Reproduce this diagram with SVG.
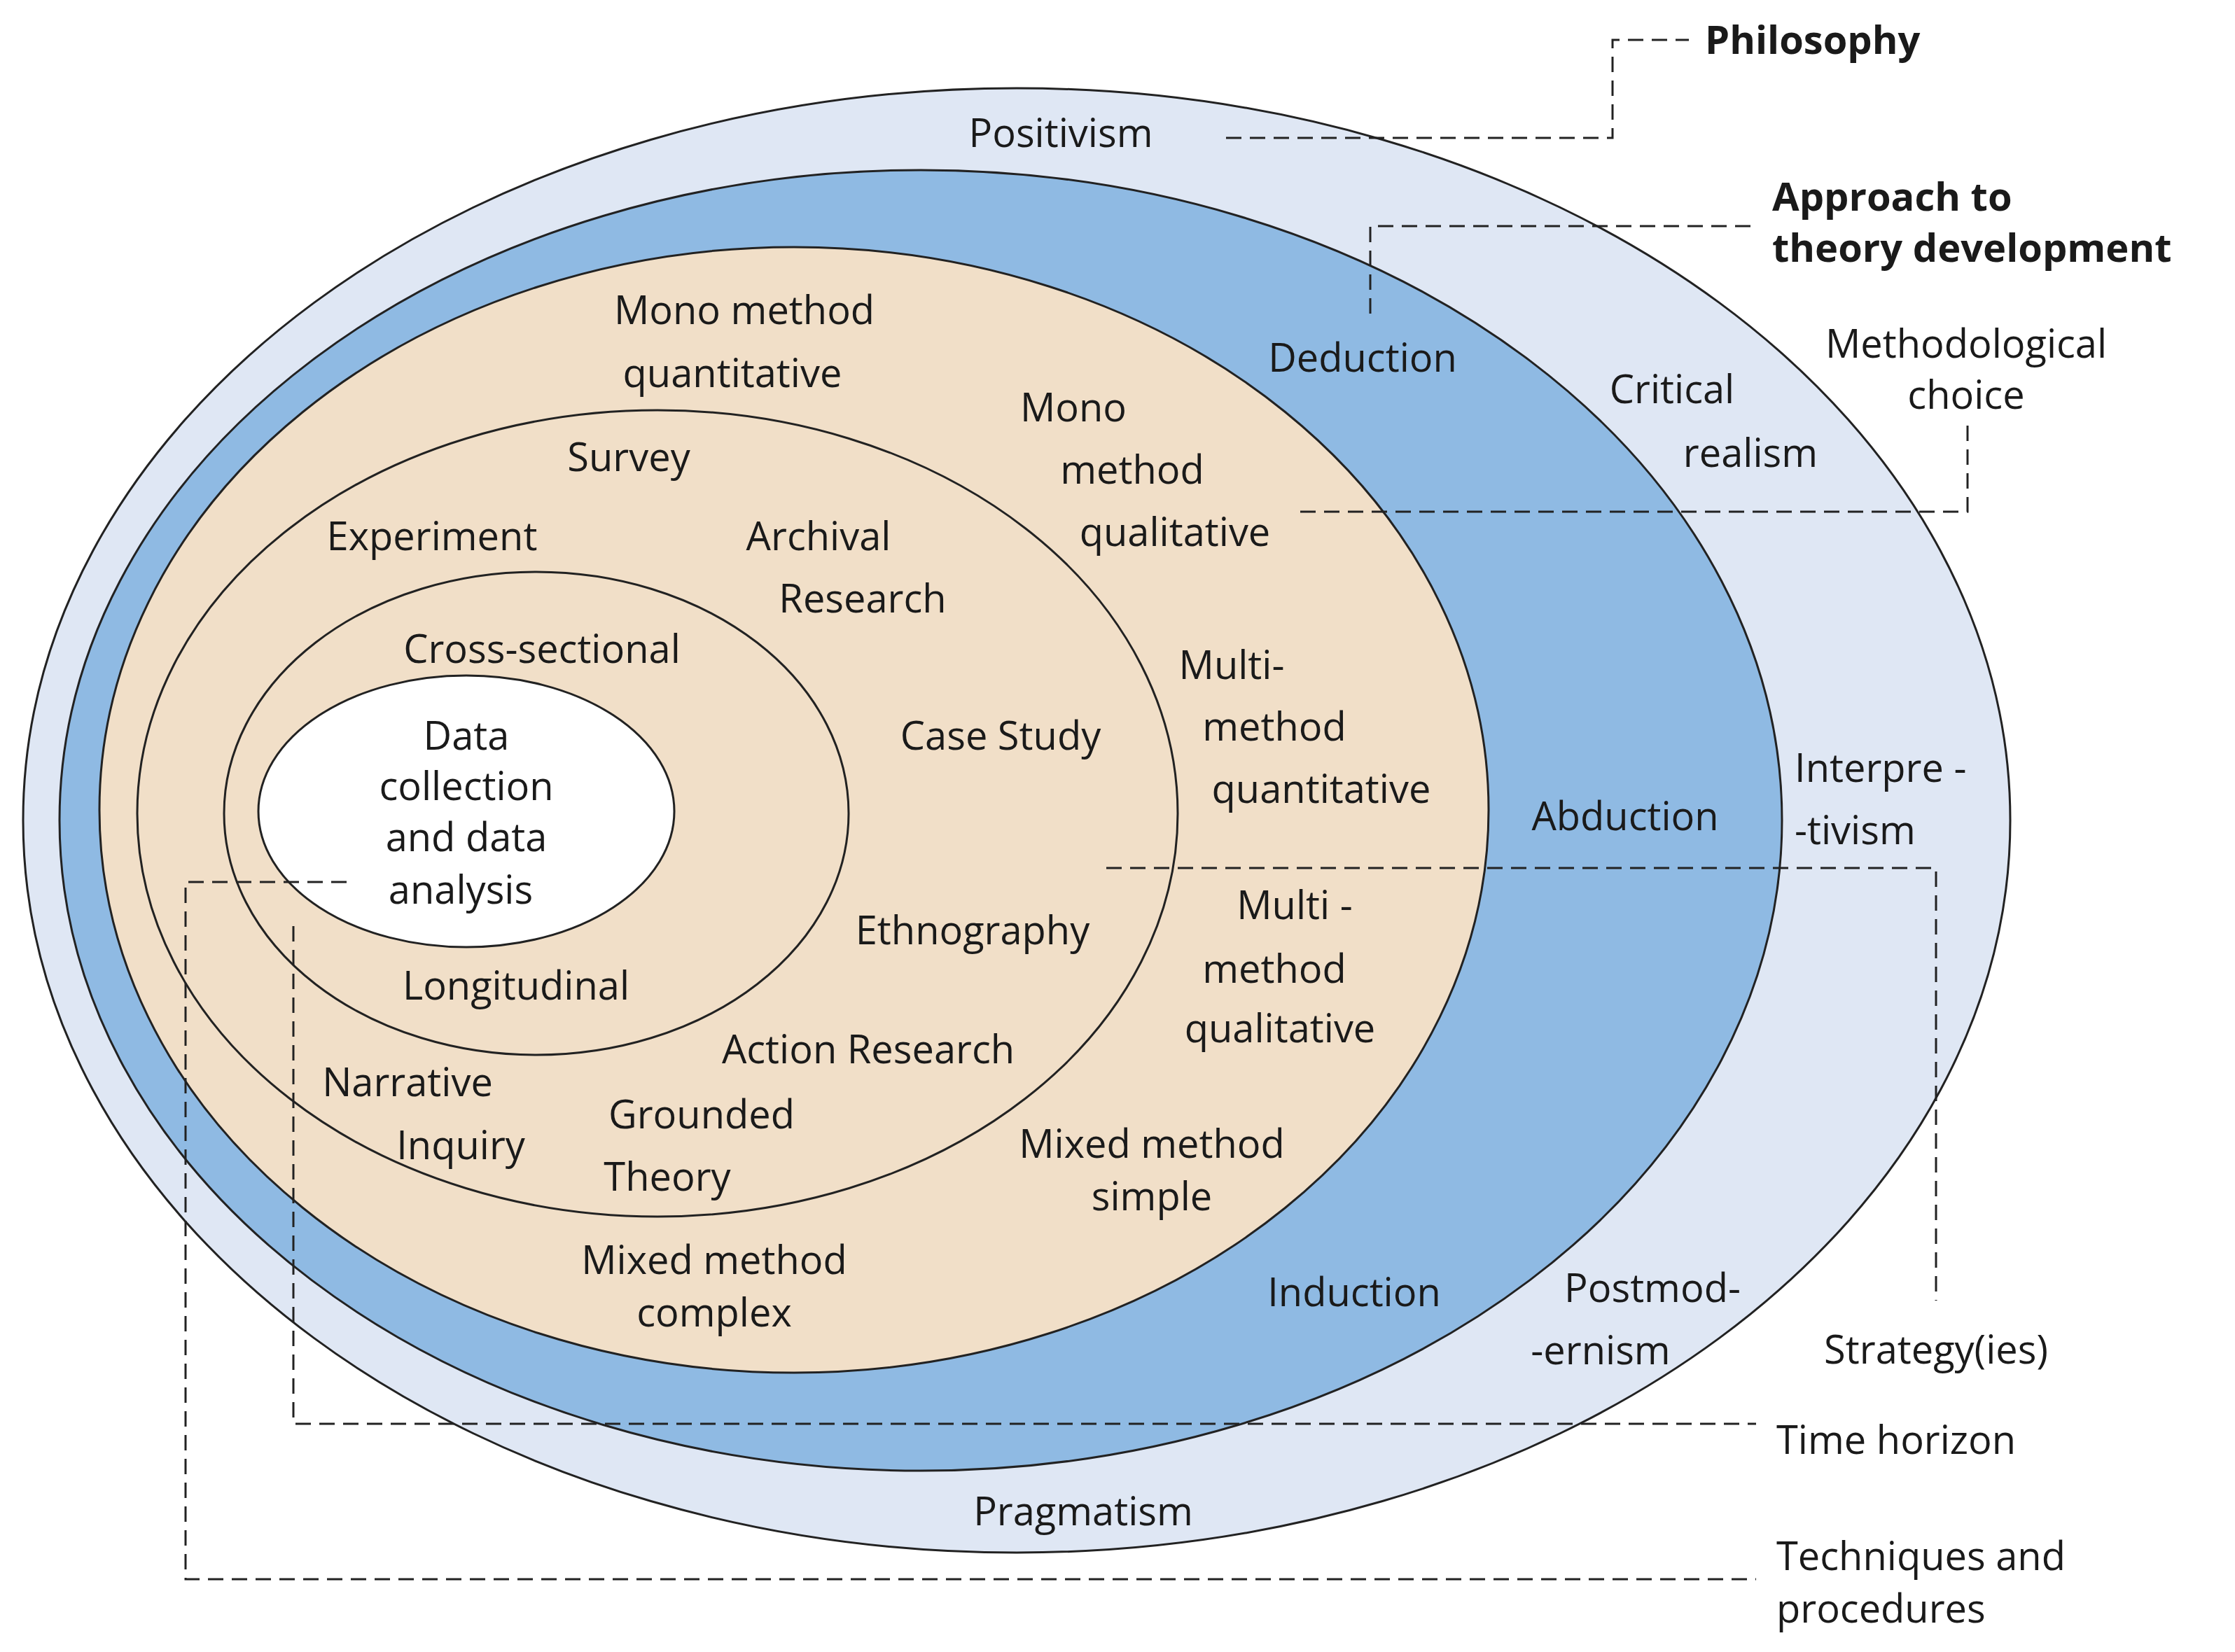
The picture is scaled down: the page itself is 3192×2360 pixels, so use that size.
<svg xmlns="http://www.w3.org/2000/svg" width="3192" height="2360" viewBox="0 0 3192 2360">
<style>
.e{stroke:#222;stroke-width:3}
text{font-family:"Open Sans","Noto Sans",sans-serif;font-size:56px;fill:#1a1a1a;text-anchor:middle}
.b{font-weight:bold;text-anchor:start}
.s{text-anchor:start}
.d{fill:none;stroke:#222;stroke-width:3;stroke-dasharray:22 12}
</style>
<rect width="3192" height="2360" fill="#fff"/>
<g id="philosophy"><ellipse class="e" cx="1452" cy="1172" rx="1419" ry="1046" fill="#dfe7f4"/></g>
<g id="approach"><ellipse class="e" cx="1315" cy="1172" rx="1230" ry="929" fill="#8fbae3"/></g>
<g id="methodological"><ellipse class="e" cx="1134" cy="1157" rx="992" ry="804" fill="#f1dfc8"/></g>
<g id="strategy"><ellipse class="e" cx="939" cy="1162" rx="743" ry="576" fill="none"/></g>
<g id="time"><ellipse class="e" cx="766" cy="1162" rx="446" ry="345" fill="none"/></g>
<g id="techniques"><ellipse class="e" cx="666" cy="1159" rx="297" ry="194" fill="#fff"/></g>
<g id="connectors">
<polyline class="d" points="1751,197 2303,197 2303,57 2412,57"/>
<polyline class="d" points="1957,448 1957,323 2500,323"/>
<polyline class="d" points="1857,731 2810,731 2810,606"/>
<polyline class="d" points="1580,1240 2765,1240 2765,1858"/>
<polyline class="d" points="419,1323 419,2034 2508,2034"/>
<polyline class="d" points="495,1260 265,1260 265,2256 2508,2256"/>
</g>
<g id="labels">
<text class="b" x="2435" y="77">Philosophy</text>
<text class="b" x="2531" y="301">Approach to</text>
<text class="b" x="2531" y="374">theory development</text>
<text x="1515" y="210">Positivism</text>
<text x="1946" y="531">Deduction</text>
<text x="2388" y="576">Critical</text>
<text x="2500" y="667">realism</text>
<text x="2808" y="511">Methodological</text>
<text x="2808" y="584">choice</text>
<text x="1063" y="463">Mono method</text>
<text x="1046" y="553">quantitative</text>
<text x="1533" y="602">Mono</text>
<text x="1617" y="691">method</text>
<text x="1678" y="780">qualitative</text>
<text x="898" y="673">Survey</text>
<text x="617" y="786">Experiment</text>
<text x="1169" y="786">Archival</text>
<text x="1232" y="875">Research</text>
<text x="774" y="947">Cross-sectional</text>
<text x="666" y="1071">Data</text>
<text x="666" y="1143">collection</text>
<text x="666" y="1216">and data</text>
<text x="658" y="1291">analysis</text>
<text x="1429" y="1071">Case Study</text>
<text x="1759" y="970">Multi-</text>
<text x="1820" y="1058">method</text>
<text x="1887" y="1147">quantitative</text>
<text x="2321" y="1186">Abduction</text>
<text class="s" x="2563" y="1117">Interpre -</text>
<text class="s" x="2563" y="1206">-tivism</text>
<text x="1849" y="1313">Multi -</text>
<text x="1820" y="1404">method</text>
<text x="1828" y="1489">qualitative</text>
<text x="1389" y="1349">Ethnography</text>
<text x="737" y="1428">Longitudinal</text>
<text x="1240" y="1519">Action Research</text>
<text x="582" y="1566">Narrative</text>
<text x="658" y="1656">Inquiry</text>
<text x="1002" y="1612">Grounded</text>
<text x="953" y="1701">Theory</text>
<text x="1645" y="1654">Mixed method</text>
<text x="1645" y="1729">simple</text>
<text x="1020" y="1820">Mixed method</text>
<text x="1020" y="1895">complex</text>
<text x="1934" y="1866">Induction</text>
<text x="2360" y="1860">Postmod-</text>
<text x="2286" y="1949">-ernism</text>
<text x="2765" y="1948">Strategy(ies)</text>
<text class="s" x="2537" y="2077">Time horizon</text>
<text x="1547" y="2179">Pragmatism</text>
<text class="s" x="2537" y="2243">Techniques and</text>
<text class="s" x="2537" y="2318">procedures</text>
</g>
</svg>
